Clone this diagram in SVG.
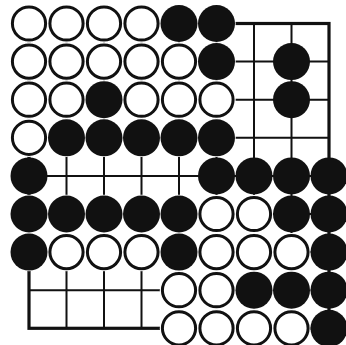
<svg xmlns="http://www.w3.org/2000/svg" width="346" height="345" viewBox="0 0 346 345">
<style>
.g{stroke:#111;stroke-width:2;fill:none}
.edge{stroke:#111;stroke-width:3.2;fill:none}
.h{fill:#fff}
.b{fill:#111}
.w{fill:#fff;stroke:#111;stroke-width:3}
</style>
<rect width="346" height="345" fill="#fff"/>
<g id="grid">
<path class="g" d="M66.5 23.5V328.3M104 23.5V328.3M141.5 23.5V328.3M179 23.5V328.3M216.5 23.5V328.3M254 23.5V328.3M291.5 23.5V328.3M29 61.6H329M29 99.7H329M29 137.8H329M29 175.9H329M29 214H329M29 252.1H329M29 290.2H329"/>
<rect class="edge" x="29" y="23.5" width="300" height="304.8"/>
</g>
<g id="halos" class="h">
<circle cx="29" cy="23.5" r="19.2"/><circle cx="66.5" cy="23.5" r="19.2"/><circle cx="104" cy="23.5" r="19.2"/><circle cx="141.5" cy="23.5" r="19.2"/><circle cx="179" cy="23.5" r="19.2"/><circle cx="216.5" cy="23.5" r="19.2"/>
<circle cx="29" cy="61.6" r="19.2"/><circle cx="66.5" cy="61.6" r="19.2"/><circle cx="104" cy="61.6" r="19.2"/><circle cx="141.5" cy="61.6" r="19.2"/><circle cx="179" cy="61.6" r="19.2"/><circle cx="216.5" cy="61.6" r="19.2"/>
<circle cx="29" cy="99.7" r="19.2"/><circle cx="66.5" cy="99.7" r="19.2"/><circle cx="104" cy="99.7" r="19.2"/><circle cx="141.5" cy="99.7" r="19.2"/><circle cx="179" cy="99.7" r="19.2"/><circle cx="216.5" cy="99.7" r="19.2"/>
<circle cx="29" cy="137.8" r="19.2"/><circle cx="66.5" cy="137.8" r="19.2"/><circle cx="104" cy="137.8" r="19.2"/><circle cx="141.5" cy="137.8" r="19.2"/><circle cx="179" cy="137.8" r="19.2"/><circle cx="216.5" cy="137.8" r="19.2"/>
<circle cx="216.5" cy="214" r="19.2"/><circle cx="254" cy="214" r="19.2"/><circle cx="216.5" cy="252.1" r="19.2"/><circle cx="254" cy="252.1" r="19.2"/><circle cx="291.5" cy="252.1" r="19.2"/>
<circle cx="29" cy="214" r="19.2"/><circle cx="66.5" cy="214" r="19.2"/><circle cx="104" cy="214" r="19.2"/><circle cx="141.5" cy="214" r="19.2"/><circle cx="179" cy="214" r="19.2"/>
<circle cx="29" cy="252.1" r="19.2"/><circle cx="66.5" cy="252.1" r="19.2"/><circle cx="104" cy="252.1" r="19.2"/><circle cx="141.5" cy="252.1" r="19.2"/><circle cx="179" cy="252.1" r="19.2"/>
<circle cx="179" cy="290.2" r="19.2"/><circle cx="216.5" cy="290.2" r="19.2"/><circle cx="254" cy="290.2" r="19.2"/><circle cx="291.5" cy="290.2" r="19.2"/>
<circle cx="179" cy="328.3" r="19.2"/><circle cx="216.5" cy="328.3" r="19.2"/><circle cx="254" cy="328.3" r="19.2"/><circle cx="291.5" cy="328.3" r="19.2"/>
</g>
<g id="stones">
<g id="row0">
<circle class="w" cx="29" cy="23.5" r="16.6"/><circle class="w" cx="66.5" cy="23.5" r="16.6"/><circle class="w" cx="104" cy="23.5" r="16.6"/><circle class="w" cx="141.5" cy="23.5" r="16.6"/><circle class="b" cx="179" cy="23.5" r="18.5"/><circle class="b" cx="216.5" cy="23.5" r="18.5"/>
</g>
<g id="row1">
<circle class="w" cx="29" cy="61.6" r="16.6"/><circle class="w" cx="66.5" cy="61.6" r="16.6"/><circle class="w" cx="104" cy="61.6" r="16.6"/><circle class="w" cx="141.5" cy="61.6" r="16.6"/><circle class="w" cx="179" cy="61.6" r="16.6"/><circle class="b" cx="216.5" cy="61.6" r="18.5"/><circle class="b" cx="291.5" cy="61.6" r="18.5"/>
</g>
<g id="row2">
<circle class="w" cx="29" cy="99.7" r="16.6"/><circle class="w" cx="66.5" cy="99.7" r="16.6"/><circle class="b" cx="104" cy="99.7" r="18.5"/><circle class="w" cx="141.5" cy="99.7" r="16.6"/><circle class="w" cx="179" cy="99.7" r="16.6"/><circle class="w" cx="216.5" cy="99.7" r="16.6"/><circle class="b" cx="291.5" cy="99.7" r="18.5"/>
</g>
<g id="row3">
<circle class="w" cx="29" cy="137.8" r="16.6"/><circle class="b" cx="66.5" cy="137.8" r="18.5"/><circle class="b" cx="104" cy="137.8" r="18.5"/><circle class="b" cx="141.5" cy="137.8" r="18.5"/><circle class="b" cx="179" cy="137.8" r="18.5"/><circle class="b" cx="216.5" cy="137.8" r="18.5"/>
</g>
<g id="row4">
<circle class="b" cx="29" cy="175.9" r="18.5"/><circle class="b" cx="216.5" cy="175.9" r="18.5"/><circle class="b" cx="254" cy="175.9" r="18.5"/><circle class="b" cx="291.5" cy="175.9" r="18.5"/><circle class="b" cx="329" cy="175.9" r="18.5"/>
</g>
<g id="row5">
<circle class="b" cx="29" cy="214" r="18.5"/><circle class="b" cx="66.5" cy="214" r="18.5"/><circle class="b" cx="104" cy="214" r="18.5"/><circle class="b" cx="141.5" cy="214" r="18.5"/><circle class="b" cx="179" cy="214" r="18.5"/><circle class="w" cx="216.5" cy="214" r="16.6"/><circle class="w" cx="254" cy="214" r="16.6"/><circle class="b" cx="291.5" cy="214" r="18.5"/><circle class="b" cx="329" cy="214" r="18.5"/>
</g>
<g id="row6">
<circle class="b" cx="29" cy="252.1" r="18.5"/><circle class="w" cx="66.5" cy="252.1" r="16.6"/><circle class="w" cx="104" cy="252.1" r="16.6"/><circle class="w" cx="141.5" cy="252.1" r="16.6"/><circle class="b" cx="179" cy="252.1" r="18.5"/><circle class="w" cx="216.5" cy="252.1" r="16.6"/><circle class="w" cx="254" cy="252.1" r="16.6"/><circle class="w" cx="291.5" cy="252.1" r="16.6"/><circle class="b" cx="329" cy="252.1" r="18.5"/>
</g>
<g id="row7">
<circle class="w" cx="179" cy="290.2" r="16.6"/><circle class="w" cx="216.5" cy="290.2" r="16.6"/><circle class="b" cx="254" cy="290.2" r="18.5"/><circle class="b" cx="291.5" cy="290.2" r="18.5"/><circle class="b" cx="329" cy="290.2" r="18.5"/>
</g>
<g id="row8">
<circle class="w" cx="179" cy="328.3" r="16.6"/><circle class="w" cx="216.5" cy="328.3" r="16.6"/><circle class="w" cx="254" cy="328.3" r="16.6"/><circle class="w" cx="291.5" cy="328.3" r="16.6"/><circle class="b" cx="329" cy="328.3" r="18.5"/>
</g>
</g>
</svg>
